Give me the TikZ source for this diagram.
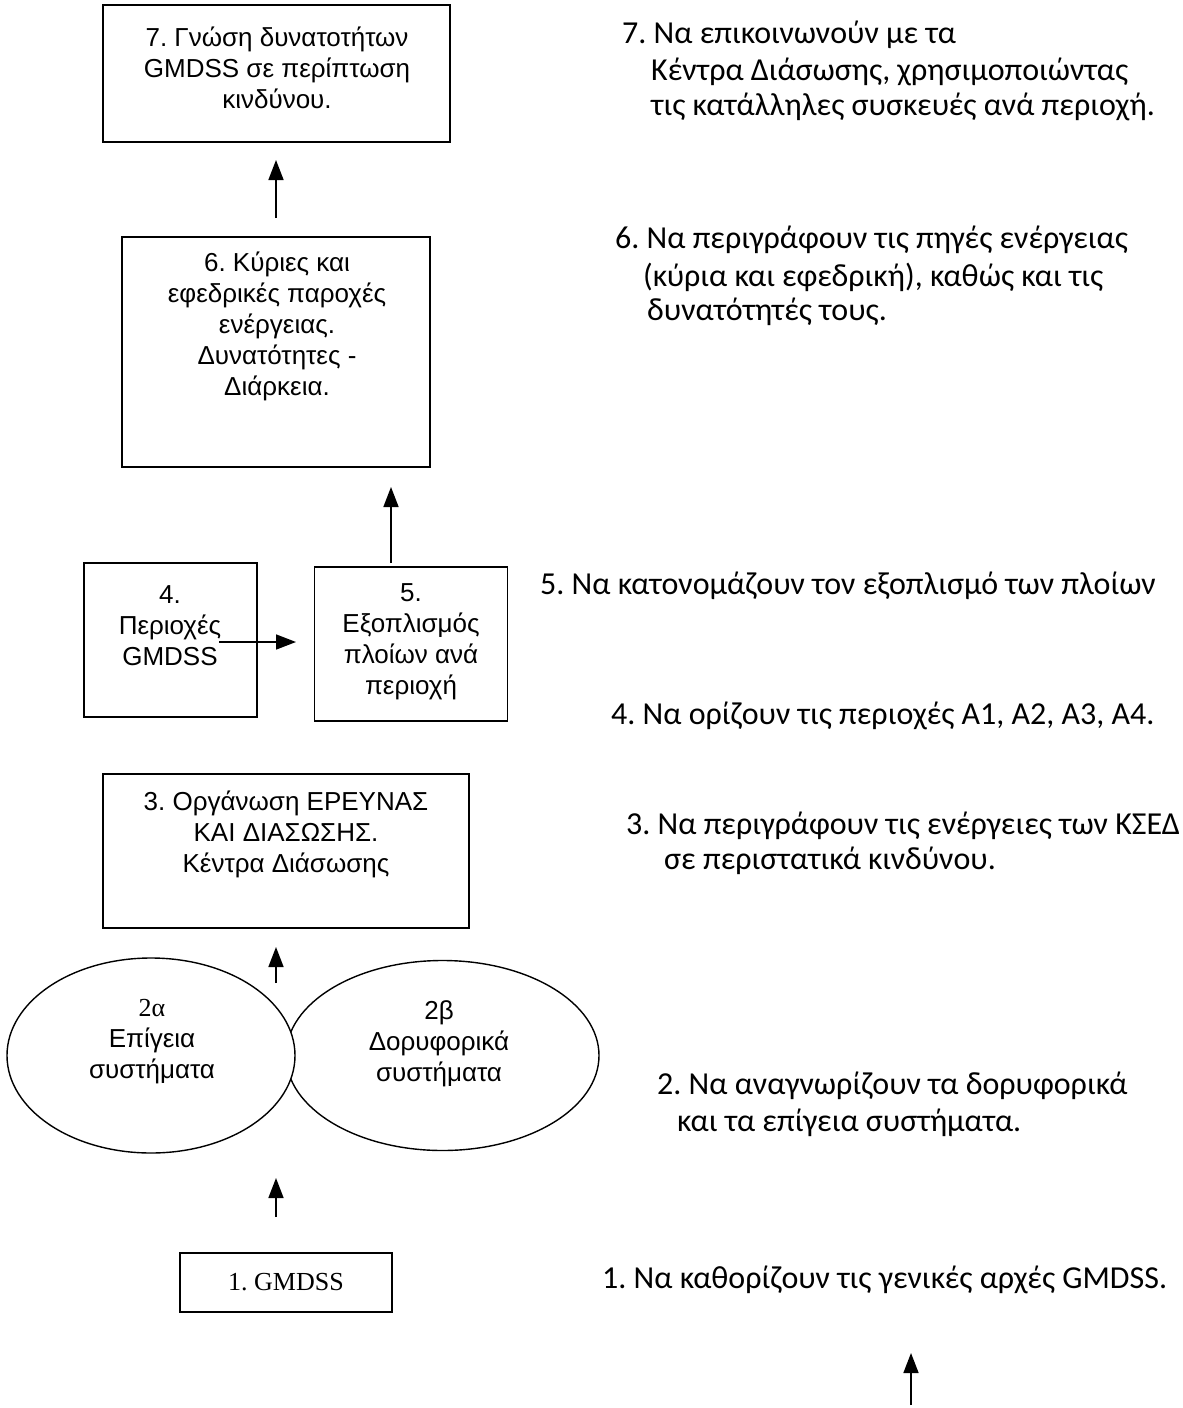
\documentclass[tikz,border=0pt]{standalone}
\usepackage{fontspec}
\setmainfont{Liberation Sans}
\newfontfamily\calfont{Carlito}
\newfontfamily\tmsfont{Liberation Serif}
\usetikzlibrary{arrows.meta,shapes.geometric}
\begin{document}
\frenchspacing
\begin{tikzpicture}[x=1pt,y=-1pt,
  box/.style={draw, line width=1.6pt, rectangle, inner sep=0pt},
  oval/.style={draw, line width=1.4pt, ellipse, inner sep=0pt, fill=white},
  btext/.style={font=\fontsize{26}{31}\selectfont, align=center, inner sep=0pt},
  rtext/.style={font=\calfont\fontsize{32}{36}\selectfont, anchor=west, inner sep=0pt},
  arr/.style={line width=1.6pt, -{Triangle[length=20pt,width=15pt]}}
]
\useasboundingbox (0,0) rectangle (1183,1408);

% boxes
\node[box, minimum width=347pt, minimum height=137pt] (b7) at (276.5,73.5) {};
\node[box, minimum width=308pt, minimum height=230pt] (b6) at (276,352) {};
\node[box, minimum width=173pt, minimum height=154pt] (b4) at (170.5,640) {};
\node[box, minimum width=193pt, minimum height=154pt] (b5) at (411,644) {};
\node[box, minimum width=366pt, minimum height=154pt] (b3) at (286,851) {};
\node[oval, minimum width=313pt, minimum height=190pt] (e2b) at (442.5,1055.5) {};
\node[oval, minimum width=288pt, minimum height=195pt] (e2a) at (151,1055.5) {};
\node[box, minimum width=212pt, minimum height=59pt] (b1) at (286,1282.5) {};

% box texts
\node[btext] (t7) at (277,68) {7. Γνώση δυνατοτήτων\\GMDSS σε περίπτωση\\κινδύνου.};
\node[btext] (t6) at (277,326) {6. Κύριες και\\εφεδρικές παροχές\\ενέργειας.\\Δυνατότητες -\\Διάρκεια.};
\node[btext] (t4) at (170,626) {4.\\Περιοχές\\GMDSS};
\node[btext] (t5) at (411,642) {5.\\Εξοπλισμός\\πλοίων ανά\\περιοχή};
\node[btext] (t3) at (286,834) {3. Οργάνωση ΕΡΕΥΝΑΣ\\ΚΑΙ ΔΙΑΣΩΣΗΣ.\\Κέντρα Διάσωσης};
\node[btext] (t2a) at (152,1042) {{\tmsfont 2α}\\Επίγεια\\συστήματα};
\node[btext] (t2b) at (439,1044) {2β\\Δορυφορικά\\συστήματα};
\node[btext, font=\tmsfont\fontsize{26}{30}\selectfont] (t1) at (286,1282) {1. GMDSS};

% arrows
\coordinate (a7s) at (276,218); \coordinate (a7e) at (276,160);
\draw[arr] (a7s) -- (a7e);
\coordinate (a6s) at (391,563); \coordinate (a6e) at (391,487);
\draw[arr] (a6s) -- (a6e);
\coordinate (a45s) at (219,642); \coordinate (a45e) at (296,642);
\draw[arr] (a45s) -- (a45e);
\coordinate (a3s) at (276,983); \coordinate (a3e) at (276,947);
\draw[arr] (a3s) -- (a3e);
\coordinate (a2s) at (276,1217); \coordinate (a2e) at (276,1178);
\draw[arr] (a2s) -- (a2e);
\coordinate (abs) at (911,1405); \coordinate (abe) at (911,1353);
\draw[arr] (abs) -- (abe);

% right texts
\node[rtext] (r7a) at (622,35) {7. Να επικοινωνούν με τα};
\node[rtext] (r7b) at (651,72) {Κέντρα Διάσωσης, χρησιμοποιώντας};
\node[rtext] (r7c) at (651,107) {τις κατάλληλες συσκευές ανά περιοχή.};
\node[rtext] (r6a) at (615,240) {6. Να περιγράφουν τις πηγές ενέργειας};
\node[rtext] (r6b) at (643,277) {(κύρια και εφεδρική), καθώς και τις};
\node[rtext] (r6c) at (647,312) {δυνατότητές τους.};
\node[rtext] (r5) at (540,586) {5. Να κατονομάζουν τον εξοπλισμό των πλοίων};
\node[rtext] (r4) at (611,716) {4. Να ορίζουν τις περιοχές Α1, Α2, Α3, Α4.};
\node[rtext] (r3a) at (626,826) {3. Να περιγράφουν τις ενέργειες των ΚΣΕΔ};
\node[rtext] (r3b) at (664,861) {σε περιστατικά κινδύνου.};
\node[rtext] (r2a) at (657,1086) {2. Να αναγνωρίζουν τα δορυφορικά};
\node[rtext] (r2b) at (677,1123) {και τα επίγεια συστήματα.};
\node[rtext] (r1) at (602,1280) {1. Να καθορίζουν τις γενικές αρχές GMDSS.};
\end{tikzpicture}
\end{document}
